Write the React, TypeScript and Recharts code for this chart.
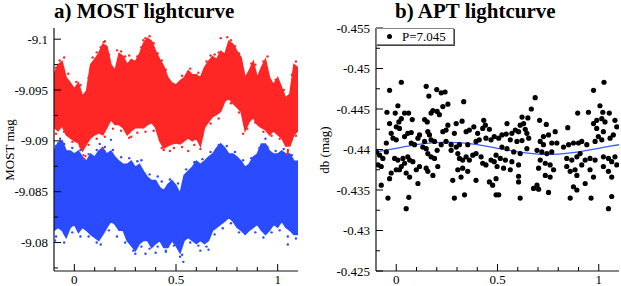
import { ComposedChart, Area, Scatter, Line, XAxis, YAxis, Legend } from 'recharts';

// MOST lightcurve: phase grid and envelopes of the two dense point clouds
const mostPhase = [-0.1, -0.08, -0.06, -0.04, -0.02, 0, 0.02, 0.04, 0.06, 0.08, 0.1, 0.12, 0.14, 0.16, 0.18, 0.2, 0.22, 0.24, 0.26, 0.28, 0.3, 0.32, 0.34, 0.36, 0.38, 0.4, 0.42, 0.44, 0.46, 0.48, 0.5, 0.52, 0.54, 0.56, 0.58, 0.6, 0.62, 0.64, 0.66, 0.68, 0.7, 0.72, 0.74, 0.76, 0.78, 0.8, 0.82, 0.84, 0.86, 0.88, 0.9, 0.92, 0.94, 0.96, 0.98, 1, 1.02, 1.04, 1.06, 1.08, 1.1];

const redTop = [
  -9.0965, -9.0975, -9.0978, -9.0962, -9.0957, -9.0951, -9.0957, -9.0944, -9.0949, -9.0975,
  -9.0980, -9.0986, -9.0995, -9.0993, -9.0975, -9.0969, -9.0986, -9.0983, -9.0975, -9.0980,
  -9.0978, -9.0985, -9.0996, -9.1001, -9.0998, -9.0988, -9.0980, -9.0973, -9.0962, -9.0957,
  -9.0955, -9.0959, -9.0962, -9.0969, -9.0965, -9.0965, -9.0962, -9.0972, -9.0978, -9.0983,
  -9.0980, -9.0988, -9.0985, -9.0998, -9.0995, -9.0988, -9.0982, -9.0962, -9.0969, -9.0978,
  -9.0962, -9.0972, -9.0980, -9.0962, -9.0955, -9.0962, -9.0952, -9.0942, -9.0946, -9.0975, -9.0972,
];
const redBottom = [
  -9.0913, -9.0910, -9.0915, -9.0906, -9.0903, -9.0900, -9.0898, -9.0890, -9.0897, -9.0903,
  -9.0906, -9.0908, -9.0906, -9.0913, -9.0921, -9.0916, -9.0916, -9.0913, -9.0906, -9.0910,
  -9.0913, -9.0913, -9.0913, -9.0916, -9.0918, -9.0913, -9.0900, -9.0893, -9.0895, -9.0897,
  -9.0898, -9.0897, -9.0900, -9.0903, -9.0900, -9.0903, -9.0895, -9.0913, -9.0919, -9.0924,
  -9.0926, -9.0929, -9.0939, -9.0942, -9.0937, -9.0933, -9.0929, -9.0910, -9.0919, -9.0923,
  -9.0916, -9.0913, -9.0911, -9.0906, -9.0910, -9.0906, -9.0903, -9.0895, -9.0895, -9.0906, -9.0910,
];
const blueTop = [
  -9.0890, -9.0898, -9.0900, -9.0890, -9.0890, -9.0887, -9.0890, -9.0884, -9.0880, -9.0887,
  -9.0884, -9.0890, -9.0893, -9.0887, -9.0890, -9.0884, -9.0880, -9.0877, -9.0877, -9.0880,
  -9.0874, -9.0877, -9.0870, -9.0864, -9.0861, -9.0861, -9.0854, -9.0851, -9.0857, -9.0861,
  -9.0856, -9.0848, -9.0866, -9.0870, -9.0874, -9.0880, -9.0877, -9.0880, -9.0884, -9.0887,
  -9.0893, -9.0897, -9.0893, -9.0887, -9.0887, -9.0884, -9.0880, -9.0874, -9.0877, -9.0884,
  -9.0887, -9.0897, -9.0897, -9.0890, -9.0887, -9.0887, -9.0890, -9.0887, -9.0887, -9.0880, -9.0880,
];
const blueBottom = [
  -9.0812, -9.0815, -9.0812, -9.0805, -9.0815, -9.0818, -9.0810, -9.0815, -9.0812, -9.0808,
  -9.0805, -9.0802, -9.0808, -9.0815, -9.0821, -9.0818, -9.0812, -9.0812, -9.0802, -9.0797,
  -9.0792, -9.0799, -9.0802, -9.0802, -9.0795, -9.0799, -9.0802, -9.0795, -9.0795, -9.0802,
  -9.0797, -9.0790, -9.0802, -9.0805, -9.0802, -9.0799, -9.0802, -9.0799, -9.0802, -9.0812,
  -9.0815, -9.0818, -9.0821, -9.0825, -9.0821, -9.0815, -9.0812, -9.0808, -9.0812, -9.0815,
  -9.0818, -9.0812, -9.0808, -9.0812, -9.0818, -9.0815, -9.0821, -9.0815, -9.0812, -9.0808, -9.0808,
];

// stray points outside the dense bands
const redStray: [number, number][] = [
  [0.045, -9.0886], [0.05, -9.0882], [0.055, -9.0885], [0.138, -9.0893], [0.37, -9.1003],
  [0.72, -9.1001], [0.752, -9.1002], [0.44, -9.0891], [0.62, -9.0892], [1.045, -9.0887],
  [1.05, -9.0889], [-0.072, -9.0979], [0.28, -9.0904], [0.47, -9.0890], [0.56, -9.0890],
  [0.83, -9.0907], [0.145, -9.0997], [0.34, -9.0999],
  [-0.09, -9.0972], [-0.05, -9.0982], [-0.03, -9.0966], [0.01, -9.0958], [0.03, -9.0955],
  [0.07, -9.0962], [0.09, -9.0982], [0.11, -9.0987], [0.13, -9.0992], [0.15, -9.0998],
  [0.17, -9.0985], [0.21, -9.0989], [0.23, -9.0988], [0.25, -9.0983], [0.27, -9.0984],
  [0.31, -9.0983], [0.33, -9.0992], [0.35, -9.1001], [0.39, -9.0996], [0.41, -9.0986],
  [0.43, -9.0979], [0.45, -9.0970], [0.53, -9.0964], [0.57, -9.0971], [0.61, -9.0967],
  [0.65, -9.0978], [0.67, -9.0984], [0.69, -9.0985], [0.71, -9.0987], [0.77, -9.0999],
  [0.79, -9.0993], [0.81, -9.0986], [0.87, -9.0976], [0.89, -9.0975], [0.93, -9.0978],
  [0.95, -9.0983], [0.99, -9.0960], [1.03, -9.0950], [1.07, -9.0965], [1.09, -9.0978],
  [-0.09, -9.0907], [-0.05, -9.0909], [-0.01, -9.0899], [0.03, -9.0894], [0.07, -9.0896],
  [0.11, -9.0902], [0.15, -9.0904], [0.19, -9.0912], [0.23, -9.0910], [0.27, -9.0903],
  [0.31, -9.0908], [0.35, -9.0909], [0.39, -9.0910], [0.43, -9.0893], [0.49, -9.0893],
  [0.53, -9.0894], [0.59, -9.0896], [0.63, -9.0905], [0.67, -9.0917], [0.71, -9.0922],
  [0.77, -9.0937], [0.81, -9.0928], [0.85, -9.0912], [0.89, -9.0918], [0.93, -9.0909],
  [0.97, -9.0905], [1.01, -9.0902], [1.05, -9.0891], [1.09, -9.0905],
];
const blueStray: [number, number][] = [
  [-0.07, -9.0902], [0.18, -9.0901], [0.94, -9.0902], [0.125, -9.0897], [0.536, -9.0781],
  [0.52, -9.0786], [0.3, -9.0789], [0.45, -9.0791], [0.62, -9.0792], [0.66, -9.0793],
  [0.35, -9.0789], [-0.095, -9.0802], [1.05, -9.0798], [0.4, -9.0790],
  [-0.09, -9.0895], [-0.05, -9.0897], [-0.01, -9.0893], [0.03, -9.0891], [0.07, -9.0887],
  [0.11, -9.0891], [0.15, -9.0894], [0.19, -9.0891], [0.23, -9.0884], [0.27, -9.0883],
  [0.31, -9.0880], [0.33, -9.0881], [0.37, -9.0867], [0.41, -9.0865], [0.43, -9.0860],
  [0.47, -9.0862], [0.51, -9.0858], [0.55, -9.0872], [0.59, -9.0879], [0.63, -9.0882],
  [0.67, -9.0889], [0.71, -9.0896], [0.75, -9.0895], [0.79, -9.0889], [0.83, -9.0881],
  [0.87, -9.0883], [0.91, -9.0893], [0.95, -9.0894], [0.99, -9.0890], [1.03, -9.0892],
  [1.07, -9.0886],
  [-0.09, -9.0806], [-0.05, -9.0800], [-0.01, -9.0810], [0.03, -9.0806], [0.07, -9.0806],
  [0.11, -9.0800], [0.13, -9.0798], [0.17, -9.0812], [0.21, -9.0806], [0.25, -9.0800],
  [0.29, -9.0792], [0.33, -9.0796], [0.37, -9.0794], [0.41, -9.0796], [0.45, -9.0792],
  [0.49, -9.0797], [0.53, -9.0788], [0.57, -9.0800], [0.61, -9.0797], [0.65, -9.0796],
  [0.69, -9.0808], [0.73, -9.0814], [0.77, -9.0819], [0.81, -9.0810], [0.85, -9.0812],
  [0.89, -9.0810], [0.93, -9.0805], [0.97, -9.0810], [1.01, -9.0812], [1.05, -9.0806],
  [1.09, -9.0804],
];

// APT lightcurve points (phase, db mag)
const aptPoints: [number, number][] = [
  [0.025, -0.4483], [-0.033, -0.4473], [0.148, -0.4478], [0.161, -0.4466], [0.2, -0.4474],
  [0.222, -0.447], [0.241, -0.4471], [0.333, -0.4459], [0.255, -0.4456], [0.23, -0.4453],
  [0.008, -0.4454], [-0.046, -0.4446], [-0.005, -0.4445], [0.041, -0.4445], [0.061, -0.4445],
  [0.181, -0.4448], [0.172, -0.4445], [0.202, -0.4447], [0.213, -0.4443], [0.025, -0.4438],
  [0.013, -0.4434], [0.079, -0.4437], [0.14, -0.4437], [0.153, -0.4434], [-0.033, -0.4432],
  [0.0, -0.4428], [0.016, -0.4426], [0.255, -0.443], [0.296, -0.4432], [0.325, -0.4435],
  [0.246, -0.4424], [0.23, -0.4422], [0.287, -0.442], [0.345, -0.4422], [0.361, -0.4424],
  [0.383, -0.4428], [0.432, -0.4436], [0.44, -0.443], [0.427, -0.4426], [0.46, -0.4425],
  [0.402, -0.442], [0.057, -0.442], [0.074, -0.4421], [0.041, -0.4416], [-0.025, -0.442],
  [-0.016, -0.4414], [0.0, -0.4412], [-0.049, -0.4408], [0.156, -0.4422], [0.164, -0.4418],
  [0.115, -0.4418], [0.107, -0.4414], [0.172, -0.4412], [0.189, -0.441], [0.14, -0.441],
  [0.074, -0.4408], [0.09, -0.4406], [0.131, -0.4403], [0.148, -0.4401], [0.202, -0.4399],
  [0.222, -0.4406], [0.246, -0.441], [0.271, -0.4406], [0.296, -0.4403], [0.312, -0.4406],
  [0.353, -0.4406], [0.394, -0.441], [0.41, -0.4412], [0.443, -0.4414], [0.468, -0.4412],
  [0.484, -0.4416], [-0.098, -0.4397], [-0.082, -0.4393], [-0.066, -0.4389], [-0.09, -0.4381],
  [-0.074, -0.4379], [-0.049, -0.4397], [-0.008, -0.4389], [0.008, -0.4387], [0.033, -0.4389],
  [0.057, -0.4391], [0.066, -0.4387], [0.082, -0.4385], [0.041, -0.4383], [0.025, -0.4379],
  [0.0, -0.4375], [-0.025, -0.4371], [-0.033, -0.4364], [0.016, -0.4375], [0.049, -0.4371],
  [0.066, -0.4366], [0.099, -0.4375], [0.115, -0.4379], [0.156, -0.4395], [0.172, -0.4391],
  [0.189, -0.4389], [0.148, -0.4377], [0.156, -0.4373], [0.181, -0.4368], [0.205, -0.4379],
  [0.271, -0.4399], [0.304, -0.4395], [0.312, -0.4389], [0.328, -0.4387], [0.345, -0.4391],
  [0.361, -0.4387], [0.378, -0.4393], [0.394, -0.4395], [0.419, -0.4391], [0.427, -0.4383],
  [0.443, -0.4381], [0.468, -0.4387], [0.484, -0.4385], [0.493, -0.4393], [0.304, -0.4375],
  [0.328, -0.4377], [0.353, -0.4373], [0.32, -0.4366], [0.394, -0.4362], [0.279, -0.4362],
  [0.107, -0.4358], [-0.074, -0.4356], [0.46, -0.436], [0.476, -0.4356], [0.493, -0.4364],
  [-0.041, -0.434], [0.062, -0.4341], [0.049, -0.4327], [0.287, -0.434], [0.337, -0.4344],
  [0.493, -0.4344],
  [1.026, -0.4483], [0.974, -0.4473], [0.686, -0.4464], [0.667, -0.445], [0.896, -0.4445],
  [0.949, -0.4446], [1.006, -0.4454], [1.02, -0.4446], [1.052, -0.4445], [0.547, -0.4432],
  [0.621, -0.444], [0.65, -0.4439], [0.629, -0.4432], [0.612, -0.443], [0.708, -0.4436],
  [0.741, -0.4431], [0.847, -0.4427], [0.785, -0.4422], [0.522, -0.4418], [0.543, -0.4419],
  [0.571, -0.442], [0.588, -0.4424], [0.604, -0.4422], [0.637, -0.4425], [0.645, -0.442],
  [0.506, -0.4414], [0.563, -0.4412], [0.596, -0.441], [0.621, -0.4411], [0.654, -0.4414],
  [0.727, -0.4416], [0.752, -0.4418], [0.711, -0.441], [0.727, -0.4406], [0.768, -0.4408],
  [0.793, -0.4408], [0.826, -0.4403], [0.851, -0.4406], [0.875, -0.4408], [0.9, -0.4408],
  [0.916, -0.441], [0.941, -0.4406], [0.974, -0.4432], [0.99, -0.4436], [1.015, -0.4438],
  [1.031, -0.4434], [0.99, -0.4426], [1.023, -0.4422], [0.998, -0.4416], [0.982, -0.441],
  [1.015, -0.4412], [1.056, -0.4414], [1.072, -0.4418], [1.08, -0.4436], [1.089, -0.4428],
  [0.522, -0.4403], [0.547, -0.4401], [0.58, -0.4397], [0.612, -0.4395], [0.645, -0.4401],
  [0.695, -0.4399], [0.719, -0.4397], [0.744, -0.4395], [0.768, -0.4397], [0.514, -0.4389],
  [0.539, -0.4387], [0.571, -0.4385], [0.604, -0.4381], [0.498, -0.4379], [0.53, -0.4377],
  [0.563, -0.4375], [0.711, -0.4387], [0.736, -0.4383], [0.703, -0.4377], [0.76, -0.4381],
  [0.777, -0.4375], [0.736, -0.4368], [0.76, -0.4366], [0.842, -0.4389], [0.867, -0.4387],
  [0.892, -0.4391], [0.908, -0.4395], [0.933, -0.4387], [0.957, -0.4389], [0.982, -0.4387],
  [0.842, -0.4379], [0.859, -0.4373], [0.883, -0.4375], [0.892, -0.4368], [0.916, -0.4381],
  [0.957, -0.4375], [0.974, -0.4366], [1.023, -0.4391], [1.048, -0.4389], [1.064, -0.4385],
  [1.08, -0.4391], [1.089, -0.4381], [1.023, -0.4379], [1.048, -0.4373], [1.064, -0.4366],
  [0.604, -0.4367], [0.604, -0.436], [0.678, -0.4352], [0.695, -0.4356], [0.703, -0.4351],
  [0.752, -0.4347], [0.875, -0.4354], [0.892, -0.435], [0.933, -0.4358], [0.506, -0.4344],
  [0.612, -0.434], [0.859, -0.434], [0.962, -0.434], [1.064, -0.4342], [1.048, -0.4327],
];

// fitted curve, P=7.045
const fitPhase = [-0.1, -0.05, 0, 0.05, 0.1, 0.15, 0.2, 0.25, 0.3, 0.35, 0.4, 0.45, 0.5, 0.55, 0.6, 0.65, 0.7, 0.75, 0.8, 0.85, 0.9, 0.95, 1, 1.05, 1.1];
const fitMag = [-0.43971, -0.43992, -0.44015, -0.44038, -0.44059, -0.44076, -0.44086, -0.4409, -0.44086, -0.44076, -0.44059, -0.44038, -0.44015, -0.43992, -0.43971, -0.43954, -0.43944, -0.4394, -0.43944, -0.43954, -0.43971, -0.43992, -0.44015, -0.44038, -0.44059];

const phaseTicks = [0, 0.1, 0.2, 0.3, 0.4, 0.5, 0.6, 0.7, 0.8, 0.9, 1];
const mostTicks = [-9.1, -9.0975, -9.095, -9.0925, -9.09, -9.0875, -9.085, -9.0825, -9.08, -9.0775];
const aptTicks = [-0.455, -0.4525, -0.45, -0.4475, -0.445, -0.4425, -0.44, -0.4375, -0.435, -0.4325, -0.43, -0.4275, -0.425];

const RED = '#ff2626';
const BLUE = '#2a4bff';
const FONT = '"Liberation Serif", "DejaVu Serif", serif';

const mostRows = mostPhase.map((p, i) => ({
  p,
  red: [redTop[i], redBottom[i]],
  blue: [blueTop[i], blueBottom[i]],
}));
const redStrayRows = redStray.map(([p, v]) => ({ p, v }));
const blueStrayRows = blueStray.map(([p, v]) => ({ p, v }));
const aptRows = aptPoints.map(([p, v]) => ({ p, v }));
const fitRows = fitPhase.map((p, i) => ({ p, fit: fitMag[i] }));

const isMajor = (v: number, step: number) => Math.abs(v / step - Math.round(v / step)) < 1e-6;
const fmt = (v: number) => String(parseFloat(v.toFixed(4)));

const makeTick = (side: string, step: number, label: boolean) => (props: any) => {
  const { x, y, payload } = props;
  const v = payload.value;
  const major = isMajor(v, step);
  const len = major ? 7 : 4;
  let x2 = x, y2 = y;
  if (side === 'bottom') y2 = y - len;
  if (side === 'top') y2 = y + len;
  if (side === 'left') x2 = x + len;
  if (side === 'right') x2 = x - len;
  return (
    <g>
      <line x1={x} y1={y} x2={x2} y2={y2} stroke="#000" strokeWidth={1} />
      {label && major && side === 'bottom' && (
        <text x={x} y={y + 13} textAnchor="middle" fontFamily={FONT} fontSize={13} fill="#000">{fmt(v)}</text>
      )}
      {label && major && side === 'left' && (
        <text x={x - 6} y={y + 4.5} textAnchor="end" fontFamily={FONT} fontSize={13} fill="#000">{fmt(v)}</text>
      )}
    </g>
  );
};

const dot = (r: number, fill: string) => (props: any) => (
  <circle cx={props.cx} cy={props.cy} r={r} fill={fill} />
);

const axisLine = { stroke: '#111', strokeWidth: 1.2 };

function phaseAxes() {
  return [
    <XAxis key="xb" dataKey="p" type="number" domain={[-0.1, 1.1]} allowDataOverflow ticks={phaseTicks} interval={0}
      height={15} tickSize={0} tickMargin={0} tickLine={false} axisLine={axisLine} tick={makeTick('bottom', 0.5, true)} />,
    <XAxis key="xt" xAxisId="t" orientation="top" dataKey="p" type="number" domain={[-0.1, 1.1]} allowDataOverflow ticks={phaseTicks} interval={0}
      height={0} tickSize={0} tickMargin={0} tickLine={false} axisLine={axisLine} tick={makeTick('top', 0.5, false)} />,
  ];
}

const yLabel = (text: string, x: number) => () => (
  <text x={x} y={150} transform={`rotate(-90 ${x} 150)`} textAnchor="middle" fontFamily={FONT} fontSize={13} fill="#000">{text}</text>
);

const titleStyle: any = { position: 'absolute', top: 2, fontSize: 21, lineHeight: '18px', fontWeight: 'bold', whiteSpace: 'nowrap' };

export default function App() {
  return (
    <div style={{ position: 'absolute', left: 0, top: 0, width: 621, height: 286, background: '#fff', fontFamily: FONT }}>
      <div style={{ ...titleStyle, left: 54 }}>a) MOST lightcurve</div>
      <div style={{ ...titleStyle, left: 395 }}>b) APT lightcurve</div>

      <div style={{ position: 'absolute', left: 0, top: 0 }}>
        <ComposedChart width={310} height={286} data={mostRows} margin={{ top: 28, right: 12, bottom: 0, left: 0 }}>
          <Area dataKey="red" type="linear" stroke={RED} strokeWidth={1.5} fill={RED} fillOpacity={1} dot={false} activeDot={false} isAnimationActive={false} />
          <Area dataKey="blue" type="linear" stroke={BLUE} strokeWidth={1.5} fill={BLUE} fillOpacity={1} dot={false} activeDot={false} isAnimationActive={false} />
          <Scatter data={redStrayRows} dataKey="v" shape={dot(1.2, RED)} isAnimationActive={false} />
          <Scatter data={blueStrayRows} dataKey="v" shape={dot(1.2, BLUE)} isAnimationActive={false} />
          {phaseAxes()}
          <YAxis type="number" domain={[-9.1011, -9.0772]} reversed allowDataOverflow ticks={mostTicks} interval={0}
            width={54} tickSize={0} tickMargin={0} tickLine={false} axisLine={axisLine} tick={makeTick('left', 0.005, true)}
            label={{ content: yLabel('MOST mag', 14) }} />
          <YAxis yAxisId="r" orientation="right" type="number" domain={[-9.1011, -9.0772]} reversed allowDataOverflow ticks={mostTicks} interval={0}
            width={0} tickSize={0} tickMargin={0} tickLine={false} axisLine={axisLine} tick={makeTick('right', 0.005, false)} />
        </ComposedChart>
      </div>

      <div style={{ position: 'absolute', left: 310, top: 0 }}>
        <ComposedChart width={311} height={286} data={fitRows} margin={{ top: 28, right: 2, bottom: 0, left: 0 }}>
          <Scatter data={aptRows} dataKey="v" shape={dot(2.6, '#000')} isAnimationActive={false} />
          <Line dataKey="fit" type="monotone" stroke="#3a5cff" strokeWidth={1.3} dot={false} activeDot={false} isAnimationActive={false} />
          {phaseAxes()}
          <YAxis type="number" domain={[-0.455, -0.425]} reversed allowDataOverflow ticks={aptTicks} interval={0}
            width={66} tickSize={0} tickMargin={0} tickLine={false} axisLine={axisLine} tick={makeTick('left', 0.005, true)}
            label={{ content: yLabel('db (mag)', 19) }} />
          <YAxis yAxisId="r" orientation="right" type="number" domain={[-0.455, -0.425]} reversed allowDataOverflow ticks={aptTicks} interval={0}
            width={0} tickSize={0} tickMargin={0} tickLine={false} axisLine={axisLine} tick={makeTick('right', 0.005, false)} />
          <Legend layout="horizontal" verticalAlign="middle" align="center"
            wrapperStyle={{ left: 66, top: 28, width: 78, height: 17 }}
            content={() => (
              <div style={{ width: 76, height: 15, border: '1px solid #888', boxShadow: '1px 1px 0 #444', background: '#fff', position: 'relative', fontFamily: FONT, fontSize: 13, lineHeight: '15px' }}>
                <span style={{ position: 'absolute', left: 10, top: 5, width: 5, height: 5, borderRadius: 3, background: '#000' }} />
                <span style={{ position: 'absolute', left: 25, top: 0 }}>P=7.045</span>
              </div>
            )} />
        </ComposedChart>
      </div>
    </div>
  );
}
